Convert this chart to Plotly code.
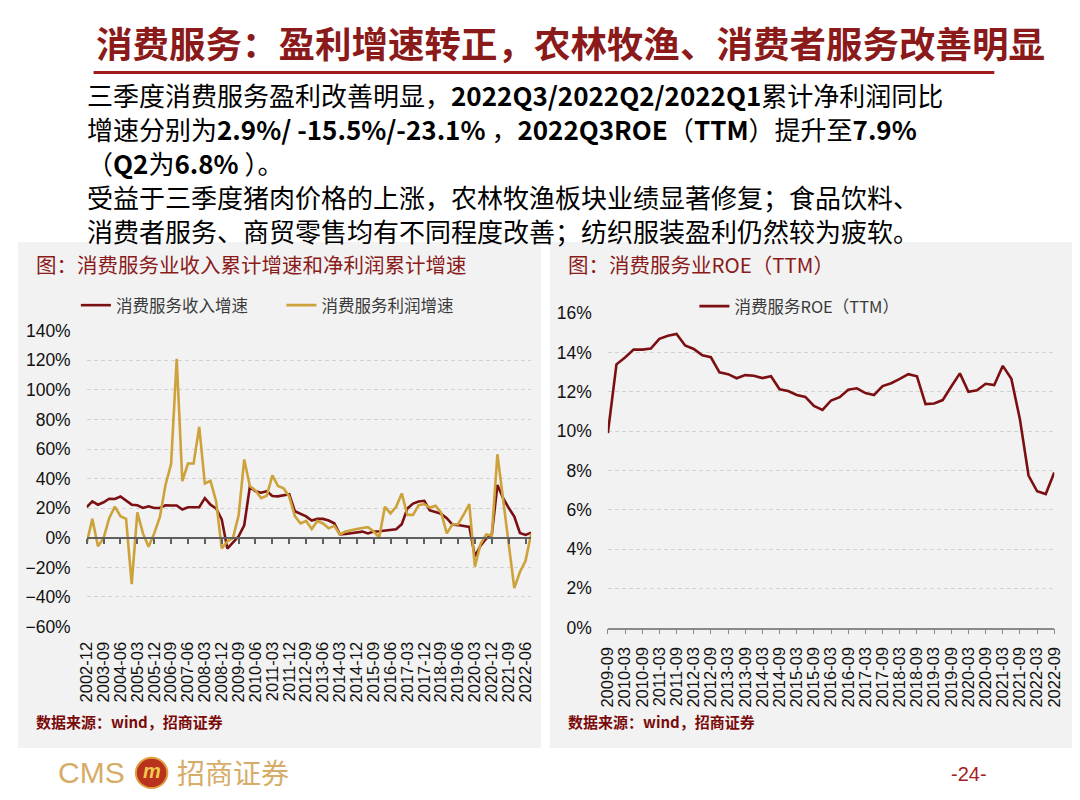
import plotly.graph_objects as go

W, H = 1080, 800


def px(x):
    return x / W


def py(y):
    return 1 - y / H


# ---------------- data ----------------
left_quarters = [f"{yr}-{m:02d}" for yr in range(2002, 2023) for m in (3, 6, 9, 12)][3:-1]  # 2002-12 .. 2022-09
right_quarters = [f"{yr}-{m:02d}" for yr in range(2009, 2023) for m in (3, 6, 9, 12)][2:-1]  # 2009-09 .. 2022-09

revenue_growth = [
    20.7, 24.6, 22.4, 24.0, 26.4, 26.2, 27.9, 25.1, 22.4, 22.0,
    20.2, 21.3, 20.2, 20.2, 22.0, 21.8, 21.8, 19.1, 20.7, 20.7,
    20.7, 26.8, 22.4, 19.8, 12.5, -7.3, -3.5, 1.0, 8.5, 34.5,
    31.5, 30.5, 31.5, 28.3, 28.0, 28.5, 29.5, 18.0, 16.5, 14.5,
    11.7, 12.8, 12.8, 11.7, 9.8, 2.3, 2.6, 3.3, 4.0, 4.2,
    3.0, 4.2, 4.4, 4.8, 5.3, 5.8, 9.2, 19.8, 23.1, 24.5,
    25.0, 18.5, 17.4, 16.2, 13.3, 9.0, 8.6, 8.0, 7.4, -12.5,
    -5.3, -0.6, 2.0, 35.7, 27.0, 20.3, 14.3, 3.3, 2.0, 3.5,
]

profit_growth = [
    -3.5, 12.8, -5.7, -0.2, 13.3, 21.1, 14.6, 12.8, -31.3, 17.2,
    3.0, -6.1, 3.0, 13.9, 35.7, 49.8, 121.0, 38.3, 50.2, 50.2,
    75.0, 36.7, 38.5, 24.8, -7.2, -2.5, 0.0, 15.0, 53.0, 35.0,
    32.0, 26.8, 28.4, 42.2, 35.0, 33.4, 27.9, 14.7, 9.7, 11.4,
    5.9, 11.4, 9.7, 6.4, 8.1, 2.2, 4.2, 4.8, 5.9, 6.6,
    7.2, 4.2, 0.4, 21.0, 16.5, 21.0, 30.0, 15.5, 15.5, 22.0,
    22.8, 20.5, 21.6, 17.0, 3.0, 9.0, 9.2, 15.6, 22.8, -19.5,
    -4.2, 2.2, 1.5, 56.5, 27.0, -3.0, -34.0, -23.1, -15.5, 2.9,
]

roe_ttm = [
    9.9, 13.4, 13.75, 14.15, 14.15, 14.2, 14.7, 14.85, 14.94, 14.36,
    14.18, 13.86, 13.76, 12.99, 12.9, 12.69, 12.85, 12.82, 12.7, 12.79,
    12.13, 12.04, 11.84, 11.74, 11.28, 11.08, 11.56, 11.73, 12.11, 12.18,
    11.94, 11.84, 12.29, 12.44, 12.66, 12.9, 12.79, 11.38, 11.41, 11.58,
    12.27, 12.94, 12.0, 12.08, 12.41, 12.34, 13.32, 12.66, 10.59, 7.74,
    6.94, 6.8, 7.9,
]

left_ticks = left_quarters[::3]
right_ticks = right_quarters[::2]

# ---------------- styles ----------------
REV = "#7B0F12"
GOLD = "#CDA23A"
DARKRED = "#8B1A1A"
GRID = "#D3D3D3"
AX = "#5F5F5F"
LAT = "Liberation Sans, Arial, Noto Sans CJK SC"
CJK = "Noto Sans CJK SC, Liberation Sans"

fig = go.Figure()

# left chart
fig.add_trace(go.Scatter(x=left_quarters, y=[None] * len(left_quarters), xaxis="x", yaxis="y",
                         mode="lines", showlegend=False, hoverinfo="skip"))
fig.add_trace(go.Scatter(x=left_quarters, y=revenue_growth, xaxis="x3", yaxis="y", mode="lines",
                         line=dict(color=REV, width=2.6), name="消费服务收入增速", legend="legend"))
fig.add_trace(go.Scatter(x=left_quarters, y=profit_growth, xaxis="x3", yaxis="y", mode="lines",
                         line=dict(color=GOLD, width=2.6), name="消费服务利润增速", legend="legend2"))
# right chart
fig.add_trace(go.Scatter(x=right_quarters, y=roe_ttm, xaxis="x2", yaxis="y2", mode="lines",
                         line=dict(color=REV, width=2.6), name="消费服务ROE（TTM）", legend="legend3"))

ly0, ly1 = py(632.4), py(328.9)
zero_pos = ly0 + (0 - (-60)) / 200 * (ly1 - ly0)

tickfont = dict(family=LAT, size=17.5, color="#111111")
xtickfont = dict(family=LAT, size=16.5, color="#111111")

legend_common = dict(orientation="h", bgcolor="rgba(0,0,0,0)", yanchor="middle", xanchor="left",
                     font=dict(family=CJK, size=16.5, color="#3A3A3A"), borderwidth=0)

fig.update_layout(
    width=W, height=H, autosize=False,
    margin=dict(l=0, r=0, t=0, b=0),
    paper_bgcolor="white", plot_bgcolor="rgba(0,0,0,0)",
    xaxis=dict(domain=[px(78), px(530)], anchor="y", type="category", range=[0, 79],
               tickmode="array", tickvals=left_ticks, tickangle=-90, showgrid=False, showline=False,
               ticks="", ticklabelstandoff=11, tickfont=xtickfont, zeroline=False),
    xaxis3=dict(overlaying="x", anchor="free", position=zero_pos, side="bottom", type="category",
                range=[0, 79], tickmode="array", tickvals=left_ticks, showticklabels=False,
                ticks="outside", ticklen=5, tickwidth=1.5, tickcolor=AX, showline=True,
                linecolor=AX, linewidth=2, showgrid=False, zeroline=False),
    yaxis=dict(domain=[ly0, ly1], anchor="x", range=[-60, 140], dtick=20, ticksuffix="%",
               showgrid=True, gridcolor=GRID, griddash="4px,3px", gridwidth=1, zeroline=False,
               showline=False, ticks="", ticklabelstandoff=15, tickfont=tickfont),
    xaxis2=dict(domain=[px(608), px(1062)], anchor="y2", type="category", range=[0, 52],
                tickmode="array", tickvals=right_ticks, tickangle=-90, showgrid=False,
                showline=True, linecolor="#8A8A8A", linewidth=1.5, ticks="outside", ticklen=5,
                tickwidth=1.3, tickcolor="#8A8A8A", ticklabelstandoff=6, tickfont=xtickfont,
                zeroline=False),
    yaxis2=dict(domain=[py(633.5), py(311)], anchor="x2", range=[0, 16], dtick=2, ticksuffix="%",
                showgrid=True, gridcolor=GRID, griddash="4px,3px", gridwidth=1, zeroline=False,
                showline=False, ticks="", ticklabelstandoff=15, tickfont=tickfont),
    legend=dict(legend_common, x=px(67), y=py(303)),
    legend2=dict(legend_common, x=px(276), y=py(303)),
    legend3=dict(legend_common, x=px(696), y=py(304)),
)

# panels and title rule
fig.add_shape(type="rect", xref="paper", yref="paper", x0=px(8), x1=px(540), y0=py(757), y1=py(238),
              fillcolor="#F2F2F2", line=dict(width=0), layer="below")
fig.add_shape(type="rect", xref="paper", yref="paper", x0=px(549), x1=px(1080), y0=py(757), y1=py(238),
              fillcolor="#F2F2F2", line=dict(width=0), layer="below")
fig.add_shape(type="line", xref="paper", yref="paper", x0=px(85), x1=px(1001), y0=py(64), y1=py(64),
              line=dict(color="#9E1B1B", width=3))

# footer logo circle
fig.add_shape(type="circle", xref="paper", yref="paper", x0=px(128), x1=px(160), y0=py(798), y1=py(767),
              fillcolor="#B8321E", line=dict(color="#E0A040", width=2))


def note(text, x, y, size, color="#000000", family=CJK, xanchor="left"):
    fig.add_annotation(text=text, x=px(x), y=py(y), xref="paper", yref="paper", showarrow=False,
                       xanchor=xanchor, yanchor="middle", align="left",
                       font=dict(family=family, size=size, color=color))


note("<b>消费服务：盈利增速转正，农林牧渔、消费者服务改善明显</b>", 570, 33, 36.5, DARKRED, xanchor="center")

body = 26
note("三季度消费服务盈利改善明显，<b>2022Q3/2022Q2/2022Q1</b>累计净利润同比<br>"
     "增速分别为<b>2.9%/ -15.5%/-23.1% </b>，<b>2022Q3ROE</b>（<b>TTM</b>）提升至<b>7.9%</b><br>"
     "（<b>Q2</b>为<b>6.8% </b>）。", 76, 122, body)
note("受益于三季度猪肉价格的上涨，农林牧渔板块业绩显著修复；食品饮料、<br>"
     "消费者服务、商贸零售均有不同程度改善；纺织服装盈利仍然较为疲软。", 76, 209, body)

note("图：消费服务业收入累计增速和净利润累计增速", 24, 260, 20.5, DARKRED)
note("图：消费服务业ROE（TTM）", 565, 260, 20.5, DARKRED)

note("<b>数据来源：wind，招商证券</b>", 24, 730, 15, "#7A0A0A")
note("<b>数据来源：wind，招商证券</b>", 565, 730, 15, "#7A0A0A")

note("CMS", 47, 782, 30, "#D6AC68", family="Liberation Sans Narrow, Liberation Sans")
note("<b><i>m</i></b>", 144, 781, 20, "#F2C94C", family=LAT, xanchor="center")
note("招商证券", 168, 782, 28, "#D6AC68")
note("-24-", 955, 784, 20, "#A52222", family="Liberation Sans Narrow, Liberation Sans")

fig.write_html("out.html")
